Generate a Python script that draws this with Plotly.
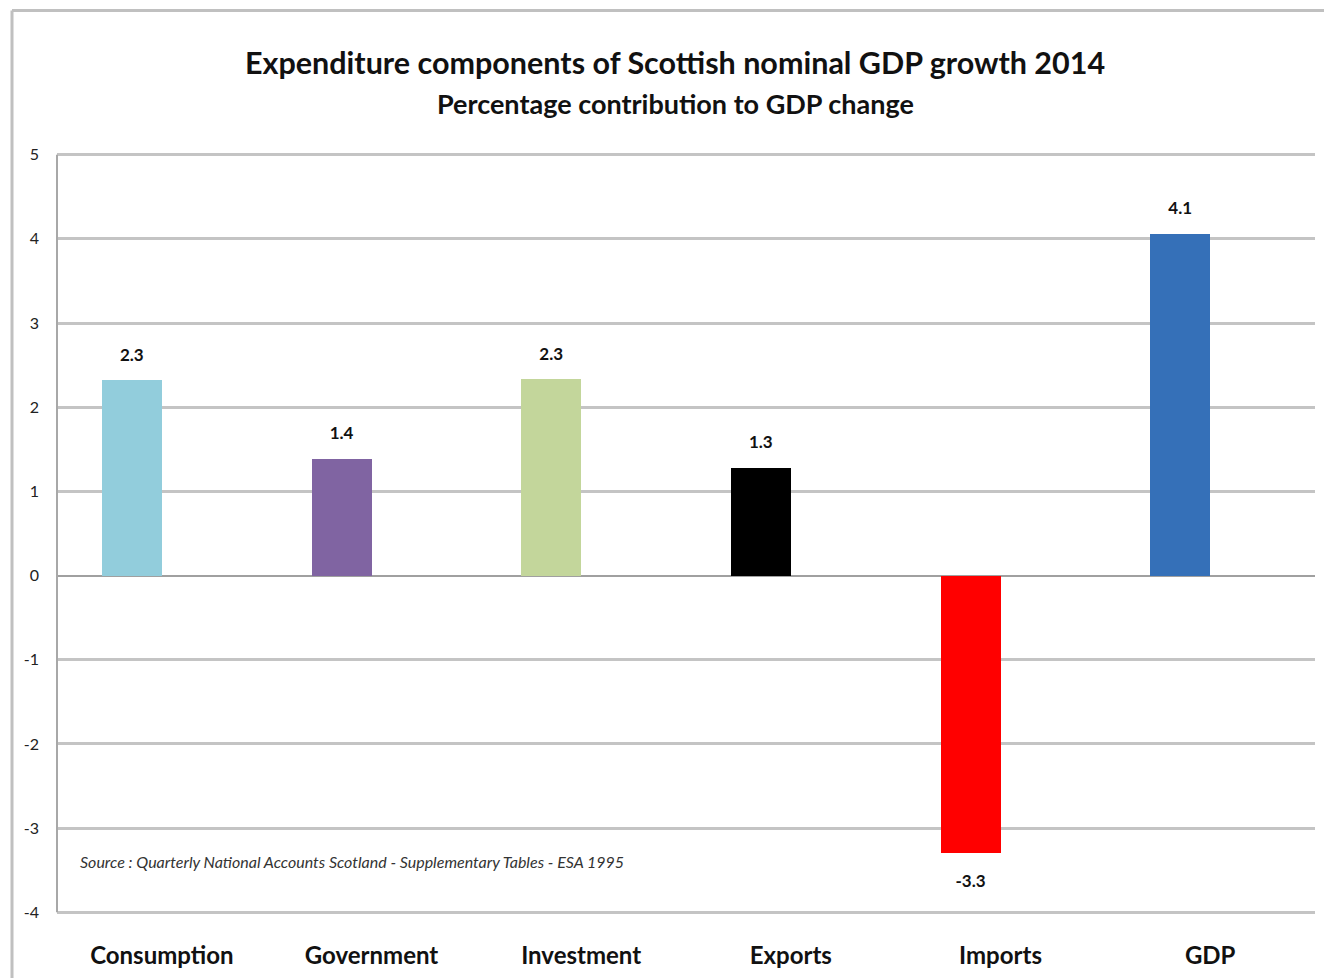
import plotly.graph_objects as go

categories = ["Consumption", "Government", "Investment", "Exports", "Imports", "GDP"]
values = [2.32, 1.39, 2.33, 1.28, -3.29, 4.06]
colors = ["#92CDDC", "#8064A2", "#C3D69B", "#000000", "#FF0000", "#3570B8"]
y_ticks = [5, 4, 3, 2, 1, 0, -1, -2, -3, -4]

W, H = 1324, 978
# plot area so that y=5 sits at 155 px and y=-4 at 912 px (range padded slightly)
pad = 0.02
unit = (912 - 155) / 9.0
L, R = 57, 9
T = 155 - pad * unit
B = (H - 912) - pad * unit
PW, PH = W - L - R, H - T - B

def px_x(X):
    return (X - L) / PW

def px_y(Y):
    return (H - B - Y) / PH

FONT = "Lato"
idx = list(range(len(categories)))
bw = 0.286

fig = go.Figure()
fig.add_trace(go.Bar(
    x=idx, y=values, width=bw, offset=-bw,
    marker=dict(color=colors, line=dict(width=0)),
    hoverinfo="skip", showlegend=False,
))
label_y = [v + (0.285 if v >= 0 else -0.36) for v in values]
fig.add_trace(go.Scatter(
    x=[i - bw / 2 for i in idx], y=label_y, mode="text",
    text=[f"{v:.1f}" for v in values],
    textposition="middle center",
    textfont=dict(family=FONT, size=17, color="#111111", weight="bold"),
    hoverinfo="skip", showlegend=False, cliponaxis=False,
))

fig.update_layout(
    width=W, height=H,
    margin=dict(l=L, r=R, t=T, b=B, pad=0, autoexpand=False),
    paper_bgcolor="white", plot_bgcolor="white",
    bargap=0,
    xaxis=dict(
        range=[-0.5, 5.5], tickmode="array", tickvals=idx, ticktext=categories,
        showgrid=False, zeroline=False, showline=False, ticks="",
        tickfont=dict(family=FONT, size=24, color="#111111", weight="bold"),
        ticklabelstandoff=25, automargin=False,
    ),
    yaxis=dict(
        range=[-4 - pad, 5 + pad], tickmode="array", tickvals=y_ticks,
        ticktext=[str(t) for t in y_ticks],
        showgrid=True, gridcolor="#C4C4C4", gridwidth=3,
        zeroline=True, zerolinecolor="#A0A0A0", zerolinewidth=2,
        showline=False, automargin=False,
        ticks="", tickfont=dict(family=FONT, size=16, color="#222222"),
        ticklabelstandoff=17,
    ),
    annotations=[
        dict(text="Expenditure components of Scottish nominal GDP growth 2014",
             x=px_x(675), y=px_y(62), xref="paper", yref="paper",
             xanchor="center", yanchor="middle", showarrow=False,
             font=dict(family=FONT, size=30.5, color="#111111", weight="bold")),
        dict(text="Percentage contribution to GDP change",
             x=px_x(675), y=px_y(104), xref="paper", yref="paper",
             xanchor="center", yanchor="middle", showarrow=False,
             font=dict(family=FONT, size=27, color="#111111", weight="bold")),
        dict(text="Source : Quarterly National Accounts Scotland - Supplementary Tables - ESA 1995",
             x=px_x(78), y=px_y(861), xref="paper", yref="paper",
             xanchor="left", yanchor="middle", showarrow=False,
             font=dict(family=FONT, size=16, color="#333333", style="italic")),
    ],
    shapes=[
        dict(type="line", xref="paper", yref="paper",
             x0=px_x(12), x1=px_x(W + 5), y0=px_y(11), y1=px_y(11),
             line=dict(color="#C0C0C0", width=3)),
        dict(type="line", xref="paper", yref="paper",
             x0=px_x(12), x1=px_x(12), y0=px_y(11), y1=px_y(H + 5),
             line=dict(color="#C0C0C0", width=3)),
        # left axis line from y=5 to y=-4
        dict(type="line", xref="paper", yref="y",
             x0=0, x1=0, y0=-4, y1=5,
             line=dict(color="#A8A8A8", width=2), layer="above"),
    ],
)

fig.write_html("out.html")
